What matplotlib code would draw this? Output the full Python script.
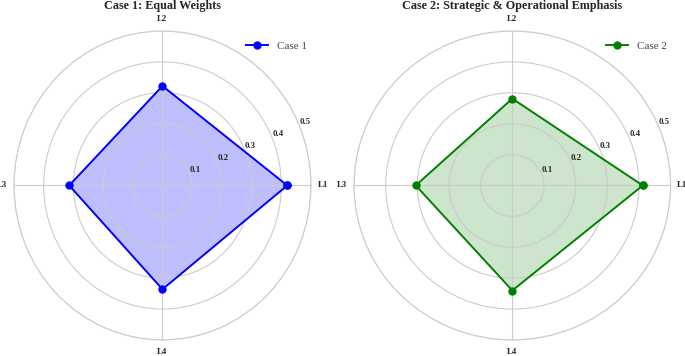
"""Radar charts comparing two weighting cases."""

import matplotlib

matplotlib.use("Agg")
import matplotlib.pyplot as plt
import numpy as np

plt.rcParams["font.family"] = ["Liberation Serif", "DejaVu Serif"]

LABELS = ["L1", "L2", "L3", "L4"]
CASE1 = [0.42, 0.322, 0.314, 0.336]
CASE2 = [0.412, 0.281, 0.305, 0.340]
R_TICKS = [0.1, 0.2, 0.3, 0.4, 0.5]

TEXT_COLOR = "#262626"
GRID_COLOR = "#cccccc"


def radar(fig, rect, values, color, fill_alpha, title, label):
    ax = fig.add_axes(rect, projection="polar")
    ax.set_aspect("auto")
    angles = np.linspace(0, 2 * np.pi, len(LABELS), endpoint=False)
    a = np.append(angles, angles[0])
    v = np.append(values, values[0])
    ax.plot(a, v, "o-", color=color, linewidth=1.4, markersize=5, label=label)
    ax.fill(a, v, color=color, alpha=fill_alpha, linewidth=0)
    ax.set_ylim(0, 0.5)
    ax.set_yticks(R_TICKS)
    ax.set_yticklabels([f"{t:.1f}" for t in R_TICKS], fontsize=6.3, fontweight="bold", color=TEXT_COLOR)
    ax.set_xticks(angles)
    ax.set_xticklabels(LABELS, fontsize=6.3, fontweight="bold", color=TEXT_COLOR)
    ax.tick_params(axis="x", pad=-2)
    ax.grid(color=GRID_COLOR, linewidth=0.8)
    ax.spines["polar"].set_color(GRID_COLOR)
    ax.spines["polar"].set_linewidth(0.8)
    ax.set_facecolor("white")
    leg = ax.legend(loc="upper right", bbox_to_anchor=(1.02, 1.0), frameon=False, fontsize=8)
    for t in leg.get_texts():
        t.set_color("#444444")
    cx = rect[0] + rect[2] / 2
    fig.text(cx, 0.999, title, ha="center", va="top", fontsize=8.7, fontweight="bold", color=TEXT_COLOR)
    return ax


def main():
    fig = plt.figure(figsize=(6.85, 3.56), dpi=100)
    radar(fig, [0.0204, 0.045, 0.4336, 0.868], CASE1, "blue", 0.25, "Case 1: Equal Weights", "Case 1")
    radar(fig, [0.5168, 0.045, 0.4622, 0.868], CASE2, "green", 0.2,
          "Case 2: Strategic & Operational Emphasis", "Case 2")
    fig.savefig("out.png", dpi=100)
    plt.close(fig)


if __name__ == "__main__":
    main()
